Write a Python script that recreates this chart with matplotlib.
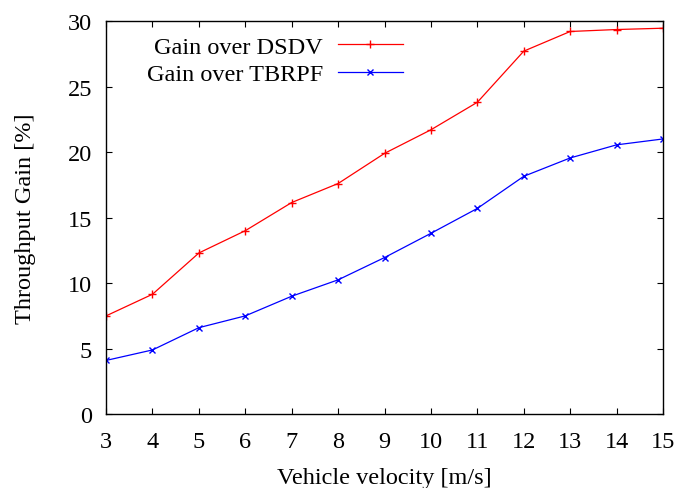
import matplotlib
matplotlib.use("Agg")
import matplotlib.pyplot as plt

velocity = [3, 4, 5, 6, 7, 8, 9, 10, 11, 12, 13, 14, 15]
gain_dsdv = [7.5, 9.15, 12.3, 14.0, 16.15, 17.6, 19.9, 21.7, 23.8, 27.7, 29.2, 29.35, 29.45]
gain_tbrpf = [4.1, 4.9, 6.6, 7.5, 9.0, 10.25, 11.95, 13.8, 15.7, 18.15, 19.55, 20.55, 21.0]
xticks = list(range(3, 16))
yticks = [0, 5, 10, 15, 20, 25, 30]

FS = 17.5
plt.rcParams['font.family'] = ['Liberation Serif', 'DejaVu Serif']
plt.rcParams['font.size'] = FS

fig = plt.figure(figsize=(6.8, 4.89), dpi=100)
ax = fig.add_axes([0.156, 0.151, 0.819, 0.804])

ax.plot(velocity, gain_dsdv, color='#ff0000', marker='+', markersize=6, linewidth=0.9,
        markeredgewidth=1.0, label='Gain over DSDV')
ax.plot(velocity, gain_tbrpf, color='#0000ff', marker='x', markersize=5, linewidth=0.9,
        markeredgewidth=1.0, label='Gain over TBRPF')

ax.set_xlim(3, 15)
ax.set_ylim(0, 30)
ax.set_xticks(xticks)
ax.set_yticks(yticks)
ax.tick_params(direction='in', top=True, right=True, length=4, width=0.8, labelsize=FS)
ax.tick_params(axis='x', pad=12)
ax.tick_params(axis='y', pad=10)
for s in ax.spines.values():
    s.set_linewidth(1.0)

ax.set_xlabel('Vehicle velocity [m/s]', fontsize=FS, labelpad=11)
ax.set_ylabel('Throughput Gain [%]', fontsize=FS, labelpad=23)

leg = ax.legend(loc='upper right', bbox_to_anchor=(0.551, 0.987), borderaxespad=0,
                frameon=False, markerfirst=False,
                handlelength=2.7, handletextpad=0.6, labelspacing=0.22, fontsize=FS)
for t in leg.get_texts():
    t.set_ha('right')
    t.set_position((0, 0))

fig.savefig('out.png', dpi=100)
